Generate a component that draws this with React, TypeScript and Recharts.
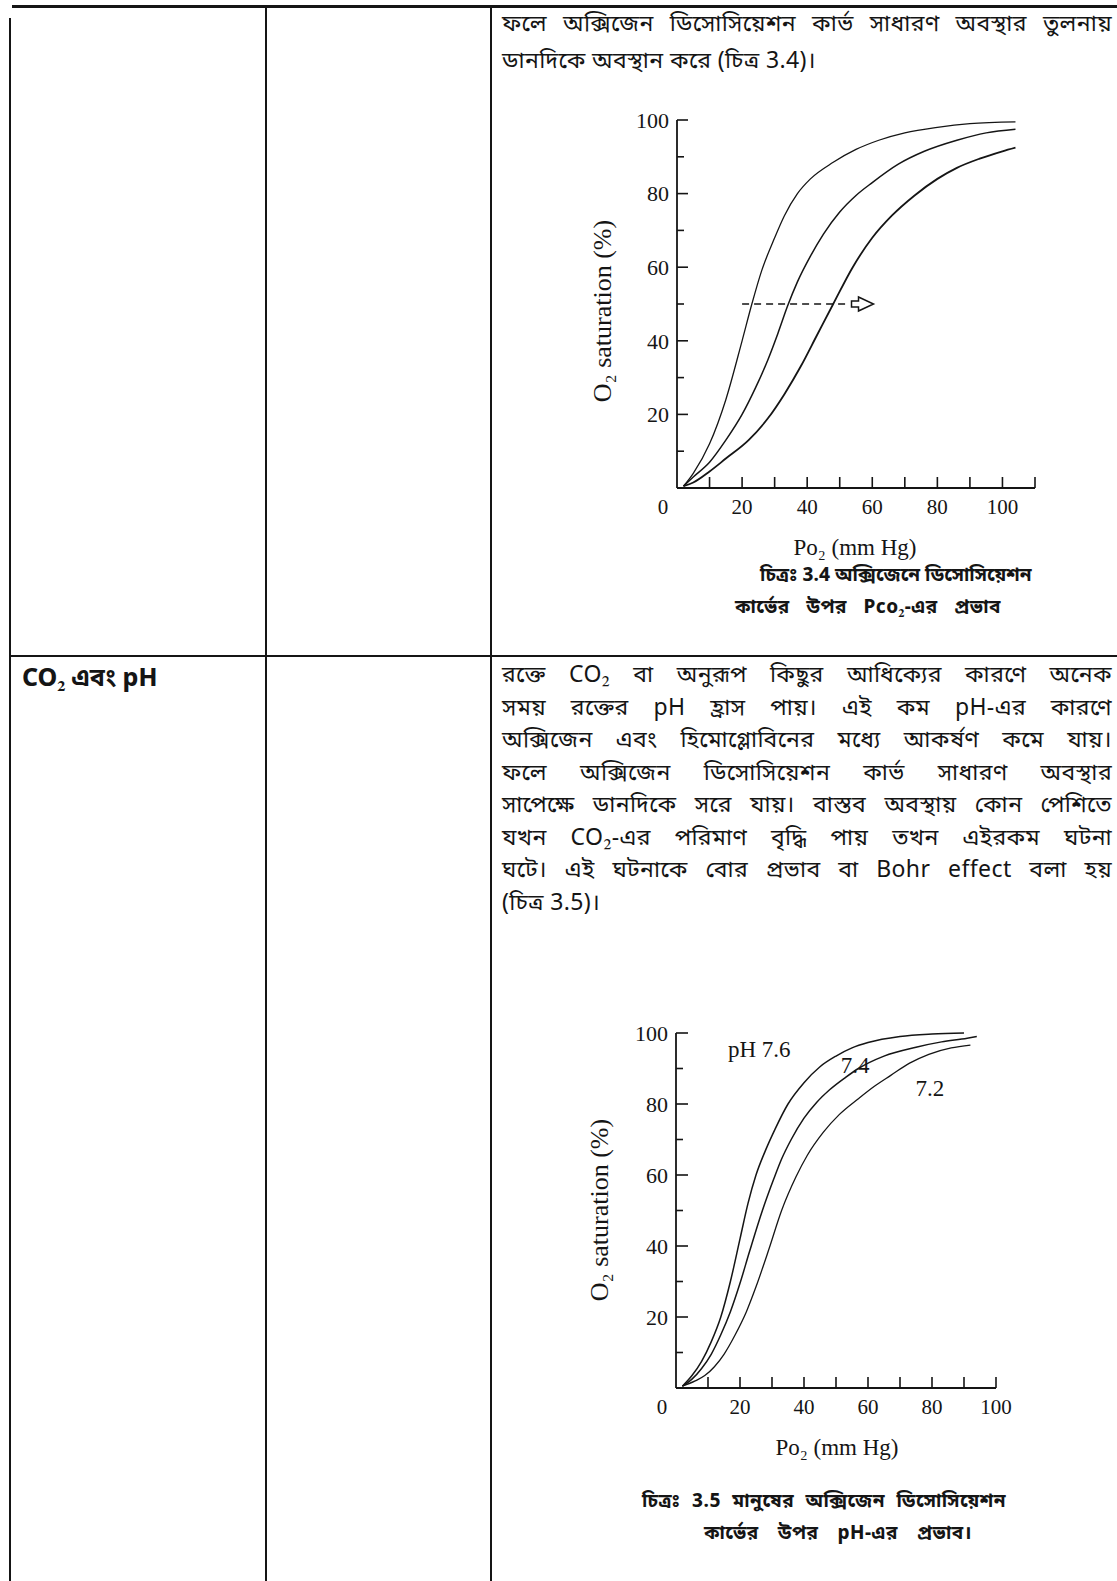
import React from "react";
import { LineChart, Line, XAxis, YAxis, ReferenceLine, ReferenceDot } from "recharts";

type Pt = [number, number];

// ---- Fig 3.4 : Pco2 effect (Po2 mm Hg -> O2 saturation %) ----
const fig34Left: Pt[] = [
  [2, 0.5], [5, 4], [10, 12], [15, 24], [20, 40], [23, 50], [26, 59], [30, 68],
  [33, 74], [37, 80], [41, 84], [48, 88.5], [55, 92], [62, 94.5], [70, 96.5],
  [80, 98], [90, 99], [104, 99.5],
];
const fig34Mid: Pt[] = [
  [2, 0.5], [5, 3], [10, 7], [15, 13], [20, 20], [24, 27], [28, 35], [31, 42],
  [34, 49.5], [37, 56], [41, 63], [45, 69], [50, 75], [55, 79.5], [60, 83],
  [68, 88], [76, 91.5], [86, 94.5], [95, 96.5], [104, 97.5],
];
const fig34Right: Pt[] = [
  [2, 0.5], [5, 1.5], [10, 4.5], [15, 8], [22, 13], [28, 19], [33, 25.5], [38, 33],
  [43, 41.5], [48, 50], [54, 60], [60, 68], [66, 74], [73, 79.5], [80, 84],
  [86, 87], [93, 89.5], [100, 91.5], [104, 92.5],
];
const fig34XTicks = [0, 10, 20, 30, 40, 50, 60, 70, 80, 90, 100, 110];
const fig34YTicks = [0, 10, 20, 30, 40, 50, 60, 70, 80, 90, 100];
const fig34Half = 50;
const fig34DashFrom = 20;
const fig34DashTo = 52;
const fig34ArrowAt = 57;

// ---- Fig 3.5 : pH effect ----
const fig35Ph76: Pt[] = [
  [2, 0.5], [5, 3.5], [8, 7.5], [11, 13], [14, 20], [17, 30], [20, 42], [22.5, 52],
  [25, 60], [28, 67], [31, 73], [35, 80], [40, 86], [45, 90.5], [50, 93.5],
  [55, 95.8], [60, 97.3], [70, 99], [80, 99.7], [90, 100],
];
const fig35Ph74: Pt[] = [
  [2, 0.5], [5, 2.5], [8, 5.5], [11, 9.5], [14, 15], [17, 21.5], [20, 29.5], [23, 38.5],
  [27, 50], [30.6, 59], [33, 64.5], [36, 70], [40, 76], [44, 80.5], [48, 84],
  [53, 87.5], [57, 90], [65, 93.5], [75, 96], [83, 97.5], [91, 98.5], [94, 99],
];
const fig35Ph72: Pt[] = [
  [2, 0.5], [6, 2], [9, 3.5], [12, 6], [15, 9.5], [18.5, 15], [22, 21.5],
  [25, 28.5], [29, 39], [33, 50], [37.5, 59.5], [41, 65.5], [46, 72], [51, 77],
  [57, 81.5], [62, 85], [67, 88], [73, 91.5], [79, 94], [86, 95.8], [92, 96.6],
];
const fig35Labels = ["pH 7.6", "7.4", "7.2"];
const fig35LabelX = [26, 56, 79.3];
const fig35LabelY = [95.5, 91, 84.5];
const fig35XTicks = [0, 10, 20, 30, 40, 50, 60, 70, 80, 90, 100];
const fig35YTicks = [0, 10, 20, 30, 40, 50, 60, 70, 80, 90, 100];

// ---- page text ----
const row1Lines = [
  "ফলে অক্সিজেন ডিসোসিয়েশন কার্ভ সাধারণ অবস্থার তুলনায়",
  "ডানদিকে অবস্থান করে (চিত্র 3.4)।",
];
const row2Lines = [
  "রক্তে CO₂ বা অনুরূপ কিছুর আধিক্যের কারণে অনেক",
  "সময় রক্তের pH হ্রাস পায়। এই কম pH-এর কারণে",
  "অক্সিজেন এবং হিমোগ্লোবিনের মধ্যে আকর্ষণ কমে যায়।",
  "ফলে অক্সিজেন ডিসোসিয়েশন কার্ভ সাধারণ অবস্থার",
  "সাপেক্ষে ডানদিকে সরে যায়। বাস্তব অবস্থায় কোন পেশিতে",
  "যখন CO₂-এর পরিমাণ বৃদ্ধি পায় তখন এইরকম ঘটনা",
  "ঘটে। এই ঘটনাকে বোর প্রভাব বা Bohr effect বলা হয়",
  "(চিত্র 3.5)।",
];
const rowHeading = "CO₂ এবং pH";
const yTitle = "O₂ saturation (%)";
const xTitle = "Po₂ (mm Hg)";
const fig34Caption = ["চিত্রঃ 3.4 অক্সিজেনে ডিসোসিয়েশন", "কার্ভের উপর Pco₂-এর প্রভাব"];
const fig35Caption = ["চিত্রঃ 3.5 মানুষের অক্সিজেন ডিসোসিয়েশন", "কার্ভের উপর pH-এর প্রভাব।"];

const INK = "#151515";
const SERIF = '"Liberation Serif", "DejaVu Serif", serif';
const BENGALI = '"Noto Sans Bengali", "Noto Serif Bengali", "Lohit Bengali", "FreeSerif", "Liberation Serif", serif';
const TM = 6;

const pts = (a: Pt[]) => a.map(([x, y]) => ({ x, y }));

function makeYTick(majorLen: number, minorLen: number) {
  return (props: any) => {
    const { x, y, payload } = props;
    const v = payload.value;
    const ax = x + TM;
    const major = v % 20 === 0;
    return (
      <g>
        {v !== 0 && (
          <line x1={ax} x2={ax + (major ? majorLen : minorLen)} y1={y} y2={y} stroke={INK} strokeWidth={1.6} />
        )}
        {major && v !== 0 && (
          <text x={x - 2} y={y} dy="0.35em" textAnchor="end" fontSize={22} fill={INK} fontFamily={SERIF}>
            {v}
          </text>
        )}
      </g>
    );
  };
}

function makeXTick(len: number, maxLabel: number) {
  return (props: any) => {
    const { x, y, payload } = props;
    const v = payload.value;
    const ay = y - TM;
    const major = v % 20 === 0;
    return (
      <g>
        {v !== 0 && <line x1={x} x2={x} y1={ay} y2={ay - len} stroke={INK} strokeWidth={1.6} />}
        {major && v <= maxLabel && (
          <text x={v === 0 ? x - 14 : x} y={ay + 19} dy="0.35em" textAnchor="middle" fontSize={21} fill={INK} fontFamily={SERIF}>
            {v}
          </text>
        )}
      </g>
    );
  };
}

const ArrowHead = (props: any) => {
  const { cx, cy } = props;
  const d = `M${cx - 11},${cy - 3} L${cx - 4},${cy - 3} L${cx - 4},${cy - 7} L${cx + 11},${cy} L${cx - 4},${cy + 7} L${cx - 4},${cy + 3} L${cx - 11},${cy + 3} Z`;
  return <path d={d} fill="#fff" stroke={INK} strokeWidth={1.5} />;
};

const labelShape = (text: string) => (props: any) => (
  <text x={props.cx} y={props.cy} dy="0.35em" textAnchor="middle" fontSize={23} fill={INK} fontFamily={SERIF}>
    {text}
  </text>
);

const Fig34: React.FC = () => (
  <LineChart width={500} height={430} margin={{ top: 20, right: 25, bottom: 12, left: 77 }}>
    <XAxis
      type="number"
      dataKey="x"
      domain={[0, 110]}
      ticks={fig34XTicks}
      interval={0}
      tickSize={0}
      tickMargin={TM}
      tickLine={false}
      axisLine={{ stroke: INK, strokeWidth: 1.8 }}
      tick={makeXTick(11, 100)}
      height={30}
    />
    <YAxis
      type="number"
      dataKey="y"
      domain={[0, 100]}
      ticks={fig34YTicks}
      interval={0}
      tickSize={0}
      tickMargin={TM}
      tickLine={false}
      axisLine={{ stroke: INK, strokeWidth: 1.8 }}
      tick={makeYTick(11, 7)}
      width={40}
    />
    <Line data={pts(fig34Left)} dataKey="y" type="monotone" stroke={INK} strokeWidth={1.3} dot={false} isAnimationActive={false} />
    <Line data={pts(fig34Mid)} dataKey="y" type="monotone" stroke={INK} strokeWidth={1.5} dot={false} isAnimationActive={false} />
    <Line data={pts(fig34Right)} dataKey="y" type="monotone" stroke={INK} strokeWidth={1.8} dot={false} isAnimationActive={false} />
    <ReferenceLine
      segment={[{ x: fig34DashFrom, y: fig34Half }, { x: fig34DashTo, y: fig34Half }]}
      stroke={INK}
      strokeWidth={1.4}
      strokeDasharray="7 5"
    />
    <ReferenceDot x={fig34ArrowAt} y={fig34Half} r={0} shape={ArrowHead} />
  </LineChart>
);

const Fig35: React.FC = () => (
  <LineChart width={460} height={420} margin={{ top: 23, right: 24, bottom: 12, left: 76 }}>
    <XAxis
      type="number"
      dataKey="x"
      domain={[0, 100]}
      ticks={fig35XTicks}
      interval={0}
      tickSize={0}
      tickMargin={TM}
      tickLine={false}
      axisLine={{ stroke: INK, strokeWidth: 1.8 }}
      tick={makeXTick(11, 100)}
      height={30}
    />
    <YAxis
      type="number"
      dataKey="y"
      domain={[0, 100]}
      ticks={fig35YTicks}
      interval={0}
      tickSize={0}
      tickMargin={TM}
      tickLine={false}
      axisLine={{ stroke: INK, strokeWidth: 1.8 }}
      tick={makeYTick(12, 7)}
      width={40}
    />
    <Line data={pts(fig35Ph76)} dataKey="y" type="monotone" stroke={INK} strokeWidth={1.5} dot={false} isAnimationActive={false} />
    <Line data={pts(fig35Ph74)} dataKey="y" type="monotone" stroke={INK} strokeWidth={1.5} dot={false} isAnimationActive={false} />
    <Line data={pts(fig35Ph72)} dataKey="y" type="monotone" stroke={INK} strokeWidth={1.3} dot={false} isAnimationActive={false} />
    {fig35Labels.map((t, i) => (
      <ReferenceDot key={t} x={fig35LabelX[i]} y={fig35LabelY[i]} r={0} shape={labelShape(t)} />
    ))}
  </LineChart>
);

const abs = (left: number, top: number, extra: React.CSSProperties = {}): React.CSSProperties => ({
  position: "absolute",
  left,
  top,
  ...extra,
});

const TextLine: React.FC<{ text: string; left: number; cy: number; width: number; justify: boolean; size?: number; bold?: boolean; spacing?: number }> = ({
  text, left, cy, width, justify, size = 23, bold = false, spacing = 0.4,
}) => (
  <div
    style={abs(left, cy - 16, {
      width,
      height: 32,
      lineHeight: "32px",
      fontSize: size,
      fontFamily: BENGALI,
      fontWeight: bold ? 700 : 400,
      letterSpacing: spacing,
      color: INK,
      whiteSpace: "nowrap",
      textAlign: justify ? "justify" : "left",
      textAlignLast: justify ? "justify" : "left",
    })}
  >
    {text}
  </div>
);

const Rule: React.FC<{ x: number; y: number; w: number; h: number }> = ({ x, y, w, h }) => (
  <div style={abs(x, y, { width: w, height: h, background: INK })} />
);

const YTitle: React.FC<{ cx: number; cy: number }> = ({ cx, cy }) => (
  <div
    style={abs(cx, cy, {
      transform: "translate(-50%, -50%) rotate(-90deg)",
      fontFamily: SERIF,
      fontSize: 26,
      color: INK,
      whiteSpace: "nowrap",
      lineHeight: "26px",
    })}
  >
    {yTitle}
  </div>
);

const XTitle: React.FC<{ cx: number; cy: number }> = ({ cx, cy }) => (
  <div
    style={abs(cx, cy, {
      transform: "translate(-50%, -50%)",
      fontFamily: SERIF,
      fontSize: 23,
      color: INK,
      whiteSpace: "nowrap",
      lineHeight: "24px",
    })}
  >
    {xTitle}
  </div>
);

export default function App() {
  return (
    <div style={abs(0, 0, { width: 1117, height: 1581, overflow: "hidden", background: "#fff" })}>
      {/* table rules */}
      <Rule x={12} y={5} w={1105} h={3} />
      <Rule x={9} y={18} w={2} h={1563} />
      <Rule x={265} y={5} w={2} h={1576} />
      <Rule x={490} y={5} w={2} h={1576} />
      <Rule x={9} y={655} w={1108} h={2} />

      {/* row 1 text */}
      {row1Lines.map((t, i) => (
        <TextLine key={i} text={t} left={502} cy={25 + i * 37} width={610} justify={i === 0} />
      ))}

      {/* row 2 */}
      <TextLine text={rowHeading} left={22} cy={680} width={230} justify={false} size={25} bold spacing={0} />
      {row2Lines.map((t, i) => (
        <TextLine key={i} text={t} left={502} cy={676 + i * 32.5} width={610} justify={i < row2Lines.length - 1} />
      ))}

      {/* figure 3.4 */}
      <div style={abs(560, 100)}>
        <Fig34 />
      </div>
      <YTitle cx={603} cy={311} />
      <XTitle cx={855} cy={548} />
      <TextLine text={fig34Caption[0]} left={760} cy={577} width={268} justify size={19} bold spacing={0} />
      <TextLine text={fig34Caption[1]} left={735} cy={609} width={266} justify size={19} bold spacing={0.5} />

      {/* figure 3.5 */}
      <div style={abs(560, 1010)}>
        <Fig35 />
      </div>
      <YTitle cx={600} cy={1210} />
      <XTitle cx={837} cy={1448} />
      <TextLine text={fig35Caption[0]} left={642} cy={1503} width={364} justify size={19} bold spacing={0.5} />
      <TextLine text={fig35Caption[1]} left={704} cy={1535} width={268} justify size={19} bold spacing={0.5} />
    </div>
  );
}
